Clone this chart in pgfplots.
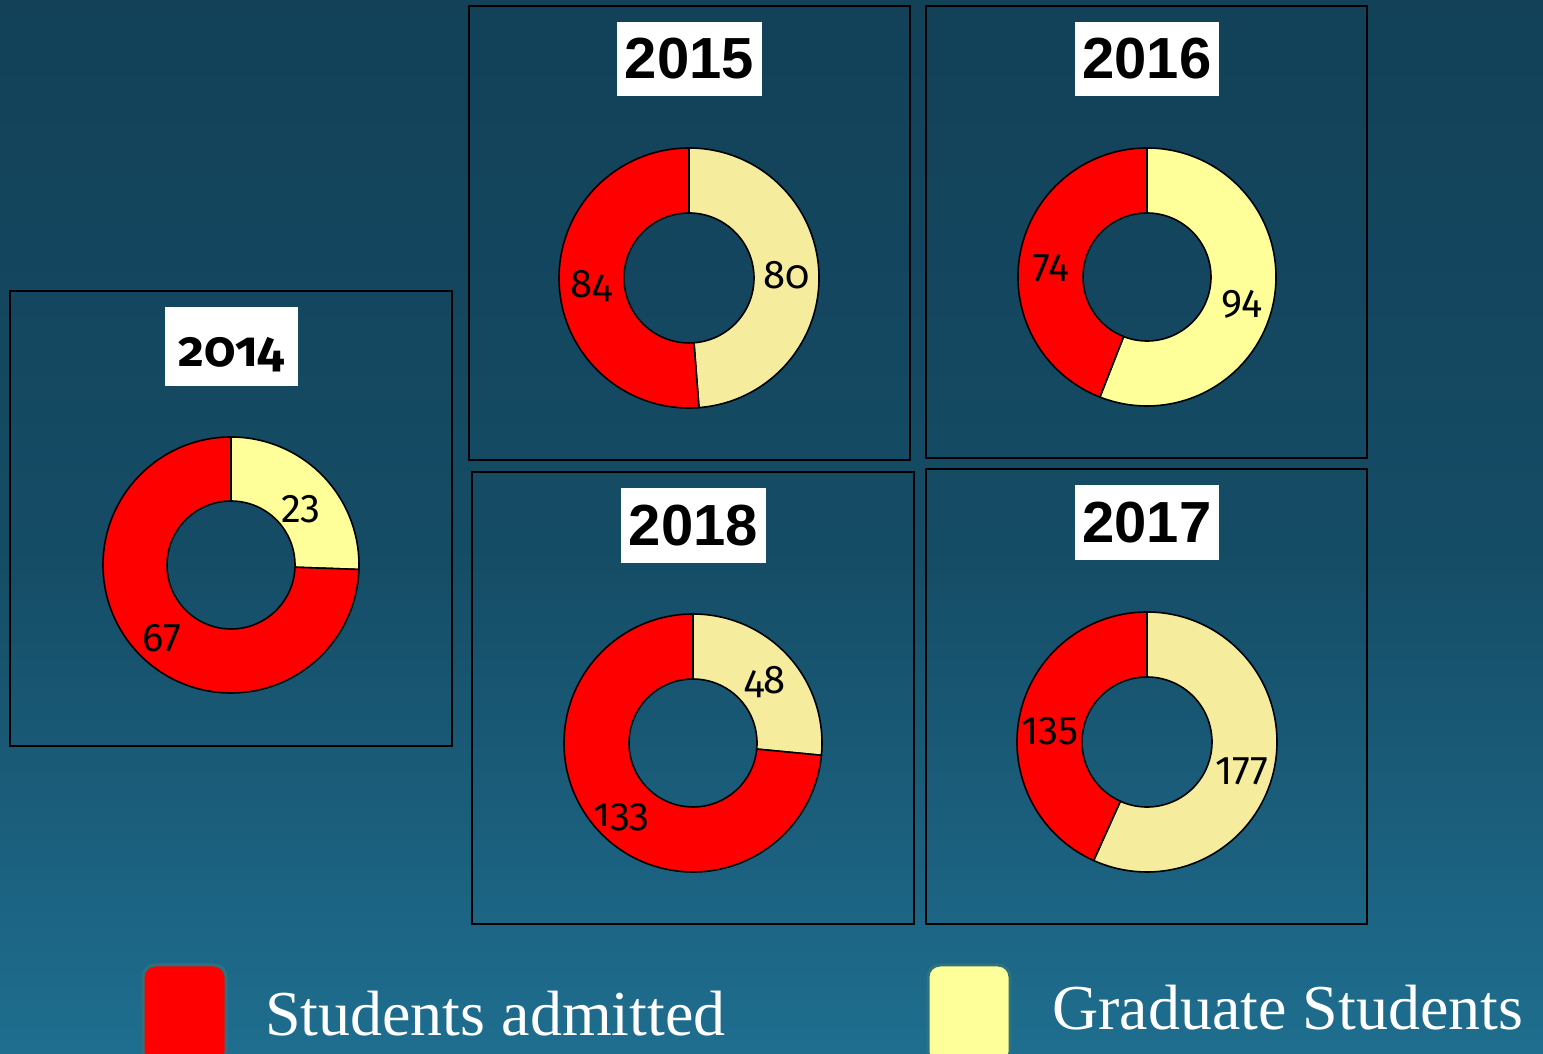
\documentclass[border=0pt]{standalone}
\usepackage{fontspec}
\setmainfont{Liberation Serif}
\newfontfamily\arialf{Liberation Sans}
\newfontfamily\firal{Fira Sans}[Numbers=Lining]
\newfontfamily\firao{Fira Sans}[Numbers=OldStyle]
\usepackage{pgfplots}
\pgfplotsset{compat=1.18}
\usepackage{pgfplotstable}

\definecolor{bgtop}{RGB}{18,65,88}
\definecolor{bgmid}{RGB}{21,76,101}
\definecolor{bgbot}{RGB}{31,110,143}
\definecolor{admit}{RGB}{255,0,0}
\definecolor{gradA}{RGB}{255,255,153}
\definecolor{gradB}{RGB}{245,236,158}
\definecolor{legborder}{RGB}{45,115,125}

\pgfdeclareverticalshading{bgshade}{100bp}{color(0bp)=(bgbot); color(25bp)=(bgbot); color(49bp)=(bgmid); color(75bp)=(bgtop); color(100bp)=(bgtop)}

\pgfplotstableread{
year red yellow
2014 67 23
2015 84 80
2016 74 94
2017 135 177
2018 133 48
}\donutdata

% #1 row, #2 cx, #3 cy, #4 ro, #5 ri, #6 yellow colour, #7 label font, #8 red label pos, #9 yellow label pos
\newcommand{\donut}[9]{%
  \pgfplotstablegetelem{#1}{red}\of\donutdata \edef\R{\pgfplotsretval}%
  \pgfplotstablegetelem{#1}{yellow}\of\donutdata \edef\Y{\pgfplotsretval}%
  \pgfmathsetmacro\E{90-360*(\Y/(\R+\Y))}%
  \begin{axis}[at={(#2,#3)}, anchor=origin, x=1pt, y=1pt,
      xmin=-140, xmax=140, ymin=-140, ymax=140, hide axis, clip=false]
    \filldraw[fill=#6, draw=black, line width=1.6pt]
      (axis cs:0,#4) arc[start angle=90, end angle=\E, radius=#4pt]
      -- (axis cs:{#5*cos(\E)},{#5*sin(\E)}) arc[start angle=\E, end angle=90, radius=#5pt] -- cycle;
    \filldraw[fill=admit, draw=black, line width=1.6pt]
      (axis cs:{#4*cos(\E)},{#4*sin(\E)}) arc[start angle=\E, end angle=-270, radius=#4pt]
      -- (axis cs:0,#5) arc[start angle=-270, end angle=\E, radius=#5pt] -- cycle;
    \node[inner sep=0pt, text=black] at (axis cs:#8) {#7\R};
    \node[inner sep=0pt, text=black] at (axis cs:#9) {#7\Y};
  \end{axis}%
}

\begin{document}
\begin{tikzpicture}[x=1pt, y=1pt]
  \useasboundingbox (0,0) rectangle (1543,1054);
  \clip (0,0) rectangle (1543,1054);
  \shade[shading=bgshade] (0,0) rectangle (1543,1054);

  % frames
  \draw[black, line width=1.3pt] (10,308) rectangle (452,763);
  \draw[black, line width=1.3pt] (469,594) rectangle (910,1048);
  \draw[black, line width=1.3pt] (926,596) rectangle (1367,1048);
  \draw[black, line width=1.3pt] (472,130) rectangle (914,582);
  \draw[black, line width=1.3pt] (926,130) rectangle (1367,585);

  % titles
  \fill[white] (165,668) rectangle (298,747);
  \node[inner sep=0pt] at (231.5,699) {\firao\bfseries\fontsize{50}{50}\selectfont 2014};
  \fill[white] (617,958) rectangle (762,1032);
  \node[inner sep=0pt] at (689.5,995) {\arialf\bfseries\fontsize{58}{58}\selectfont 2015};
  \fill[white] (1075,958) rectangle (1219,1032);
  \node[inner sep=0pt] at (1147,995) {\arialf\bfseries\fontsize{58}{58}\selectfont 2016};
  \fill[white] (621,491) rectangle (766,566);
  \node[inner sep=0pt] at (693.5,528.5) {\arialf\bfseries\fontsize{58}{58}\selectfont 2018};
  \fill[white] (1075,494) rectangle (1219,569);
  \node[inner sep=0pt] at (1147,531.5) {\arialf\bfseries\fontsize{58}{58}\selectfont 2017};

  % donuts
  \donut{0}{231}{489}{128}{64}{gradA}{\firal\fontsize{40}{40}\selectfont}{-69,-73}{70,56}
  \donut{1}{689}{776}{130}{65}{gradB}{\firao\fontsize{40}{40}\selectfont}{-98,-8}{98,3}
  \donut{2}{1147}{777}{129}{64}{gradA}{\firal\fontsize{40}{40}\selectfont}{-96,9}{95,-27}
  \donut{3}{1147}{312}{130}{65}{gradB}{\firal\fontsize{40}{40}\selectfont}{-97,11}{95,-29}
  \donut{4}{693}{311}{129}{64}{gradB}{\firao\fontsize{40}{40}\selectfont}{-72,-74}{72,61}

  % legend
  \filldraw[fill=admit, draw=legborder, line width=3pt, rounded corners=12pt] (143,-10) rectangle (226,89);
  \node[anchor=base west, inner sep=0pt, text=white] at (265,18) {\fontsize{64}{64}\selectfont Students admitted};
  \filldraw[fill=gradA, draw=legborder, line width=3pt, rounded corners=12pt] (928,-10) rectangle (1010,89);
  \node[anchor=base west, inner sep=0pt, text=white] at (1052,24) {\fontsize{64}{64}\selectfont Graduate Students};
\end{tikzpicture}
\end{document}
